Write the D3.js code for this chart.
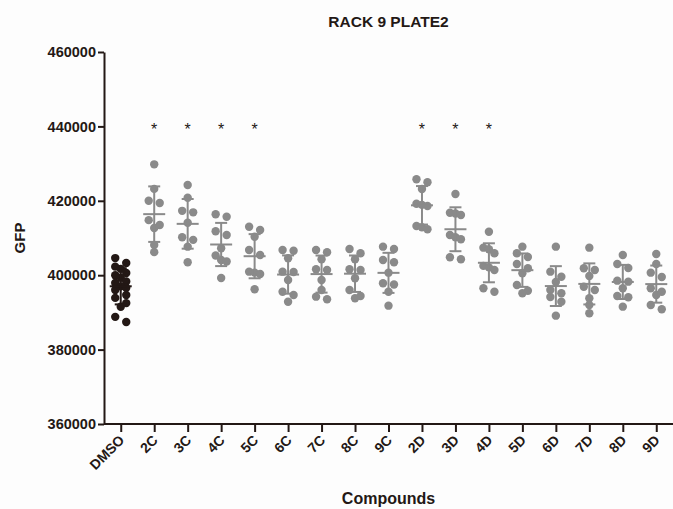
<!DOCTYPE html>
<html>
<head>
<meta charset="utf-8">
<script src="https://cdn.jsdelivr.net/npm/d3@7"></script>
<style>
    body { margin: 0; background: #fdfdfd; }
    text { font-family: "Liberation Sans", Arial, Helvetica, sans-serif; font-weight: bold; fill: #231815; }
</style>
</head>
<body>
<div id="chart"></div>
<script>

var categories = ["DMSO", "2C", "3C", "4C", "5C", "6C", "7C", "8C", "9C",
    "2D", "3D", "4D", "5D", "6D", "7D", "8D", "9D"];

var dmsoValues = [404600, 403300, 402300, 401700, 400600, 400000, 399300, 398300, 397900,
    397000, 396600, 396000, 394700, 393900, 392500, 391500, 388800, 387400];

var cValues = [
    [429800, 423200, 420000, 419400, 414800, 413500, 412700, 408100, 406200],
    [424250, 420840, 417300, 416900, 414110, 410200, 409500, 407670, 403470],
    [416370, 415730, 411800, 410810, 407240, 405300, 404090, 403700, 399250],
    [413040, 412150, 410350, 406780, 405430, 400950, 400700, 400330, 396210],
    [406780, 406590, 404550, 400950, 400860, 398710, 395570, 394680, 392880],
    [406780, 406160, 404280, 401590, 401400, 398710, 396030, 394230, 393530],
    [407050, 405890, 404280, 401590, 401400, 399170, 396030, 394410, 393800],
    [407670, 407050, 404090, 403470, 400680, 397830, 397500, 395570, 391810]
];

var dValues = [
    [425780, 424980, 423170, 419200, 418900, 418600, 413230, 412880, 412340],
    [421830, 416800, 416600, 416200, 410810, 410190, 409660, 404820, 404280],
    [411700, 407400, 407000, 405890, 402500, 402100, 401400, 396480, 395570],
    [407670, 405890, 404900, 403010, 401860, 400510, 397370, 395840, 395140],
    [407670, 400950, 399600, 398180, 396030, 395140, 394140, 392880, 389120],
    [407400, 401860, 401400, 399790, 396910, 396030, 393800, 391990, 389760],
    [405430, 403010, 401940, 398530, 398260, 396480, 394410, 394060, 391540],
    [405700, 403010, 400680, 399520, 396480, 395570, 394680, 391990, 390840]
];

var yTicks = [360000, 380000, 400000, 420000, 440000, 460000];
var starred = ["2C", "3C", "4C", "5C", "2D", "3D", "4D"];
var starLevel = 440000;

function createChart() {

    var width = 673;
    var height = 509;
    var ink = "#231815";
    var grey = "#8a8a8a";

    var margin = {
        top: 52,
        left: 104,
        right: 0,
        bottom: 85
    };

    var svg = d3.select("#chart").append("svg")
        .attr("width", width)
        .attr("height", height);

    var groups = [dmsoValues].concat(cValues, dValues);

    var x = d3.scalePoint()
        .domain(categories)
        .range([margin.left, width - margin.right])
        .padding(0.5);

    var y = d3.scaleLinear()
        .domain([360000, 460000])
        .range([height - margin.bottom, margin.top]);

    // title and axis titles
    svg.append("text")
        .attr("x", (margin.left + width) / 2)
        .attr("y", 27)
        .attr("text-anchor", "middle")
        .style("font-size", "15.5px")
        .text("RACK 9 PLATE2");

    svg.append("text")
        .attr("transform", "translate(25," + (margin.top + height - margin.bottom) / 2 + ") rotate(-90)")
        .attr("text-anchor", "middle")
        .style("font-size", "15px")
        .text("GFP");

    svg.append("text")
        .attr("x", (margin.left + width) / 2)
        .attr("y", 504)
        .attr("text-anchor", "middle")
        .style("font-size", "16px")
        .text("Compounds");

    // dots, spread sideways where they crowd
    groups.forEach(function(vals, gi) {
        var cat = categories[gi];
        var color = gi === 0 ? ink : grey;
        var pts = vals.slice().sort(function(a, b) { return b - a; });
        var bins = [];
        var cur = null;
        pts.forEach(function(v) {
            if (cur && y(v) - cur.y0 < 6.5) cur.pts.push(v);
            else { cur = { y0: y(v), pts: [v] }; bins.push(cur); }
        });
        var placed = [];
        bins.forEach(function(b) {
            var n = b.pts.length;
            var step = n === 2 ? 11 : 5.5;
            b.pts.forEach(function(v, i) {
                placed.push({ v: v, dx: (i - (n - 1) / 2) * step });
            });
        });

        svg.append("g").selectAll("circle")
            .data(placed)
            .enter().append("circle")
            .attr("cx", function(d) { return x(cat) + d.dx; })
            .attr("cy", function(d) { return y(d.v); })
            .attr("r", 4.2)
            .attr("fill", color);

        var m = d3.mean(vals);
        var sd = d3.deviation(vals);
        var bar = svg.append("g")
            .attr("stroke", color)
            .attr("stroke-width", 2);
        bar.append("line")
            .attr("x1", x(cat)).attr("x2", x(cat))
            .attr("y1", y(m + sd)).attr("y2", y(m - sd));
        bar.append("line")
            .attr("x1", x(cat) - 11).attr("x2", x(cat) + 11)
            .attr("y1", y(m)).attr("y2", y(m));
        [m + sd, m - sd].forEach(function(v) {
            bar.append("line")
                .attr("x1", x(cat) - 6).attr("x2", x(cat) + 6)
                .attr("y1", y(v)).attr("y2", y(v));
        });
    });

    // significance stars
    svg.append("g").selectAll("text")
        .data(starred)
        .enter().append("text")
        .attr("x", function(d) { return x(d); })
        .attr("y", y(starLevel) + 9)
        .attr("text-anchor", "middle")
        .style("font-size", "16px")
        .style("font-weight", "normal")
        .text("*");

    // axes
    var yAxis = svg.append("g")
        .attr("transform", "translate(" + margin.left + ",0)")
        .call(d3.axisLeft(y).tickValues(yTicks).tickFormat(d3.format("d"))
            .tickSize(6).tickSizeOuter(0).tickPadding(2));

    var xAxis = svg.append("g")
        .attr("transform", "translate(0," + (height - margin.bottom) + ")")
        .call(d3.axisBottom(x).tickSize(8).tickSizeOuter(0));

    xAxis.select(".domain")
        .attr("d", "M" + margin.left + ",0H" + width);

    [yAxis, xAxis].forEach(function(a) {
        a.selectAll("path, line")
            .attr("stroke", ink)
            .attr("stroke-width", 2);
        a.selectAll("text")
            .attr("fill", ink)
            .style("font-size", "14.5px");
    });

    xAxis.selectAll("text")
        .style("font-size", "14px")
        .attr("text-anchor", "end")
        .attr("dy", null)
        .attr("y", 0)
        .attr("transform", "translate(4,17) rotate(-45)");
}

createChart();
</script>
</body>
</html>
